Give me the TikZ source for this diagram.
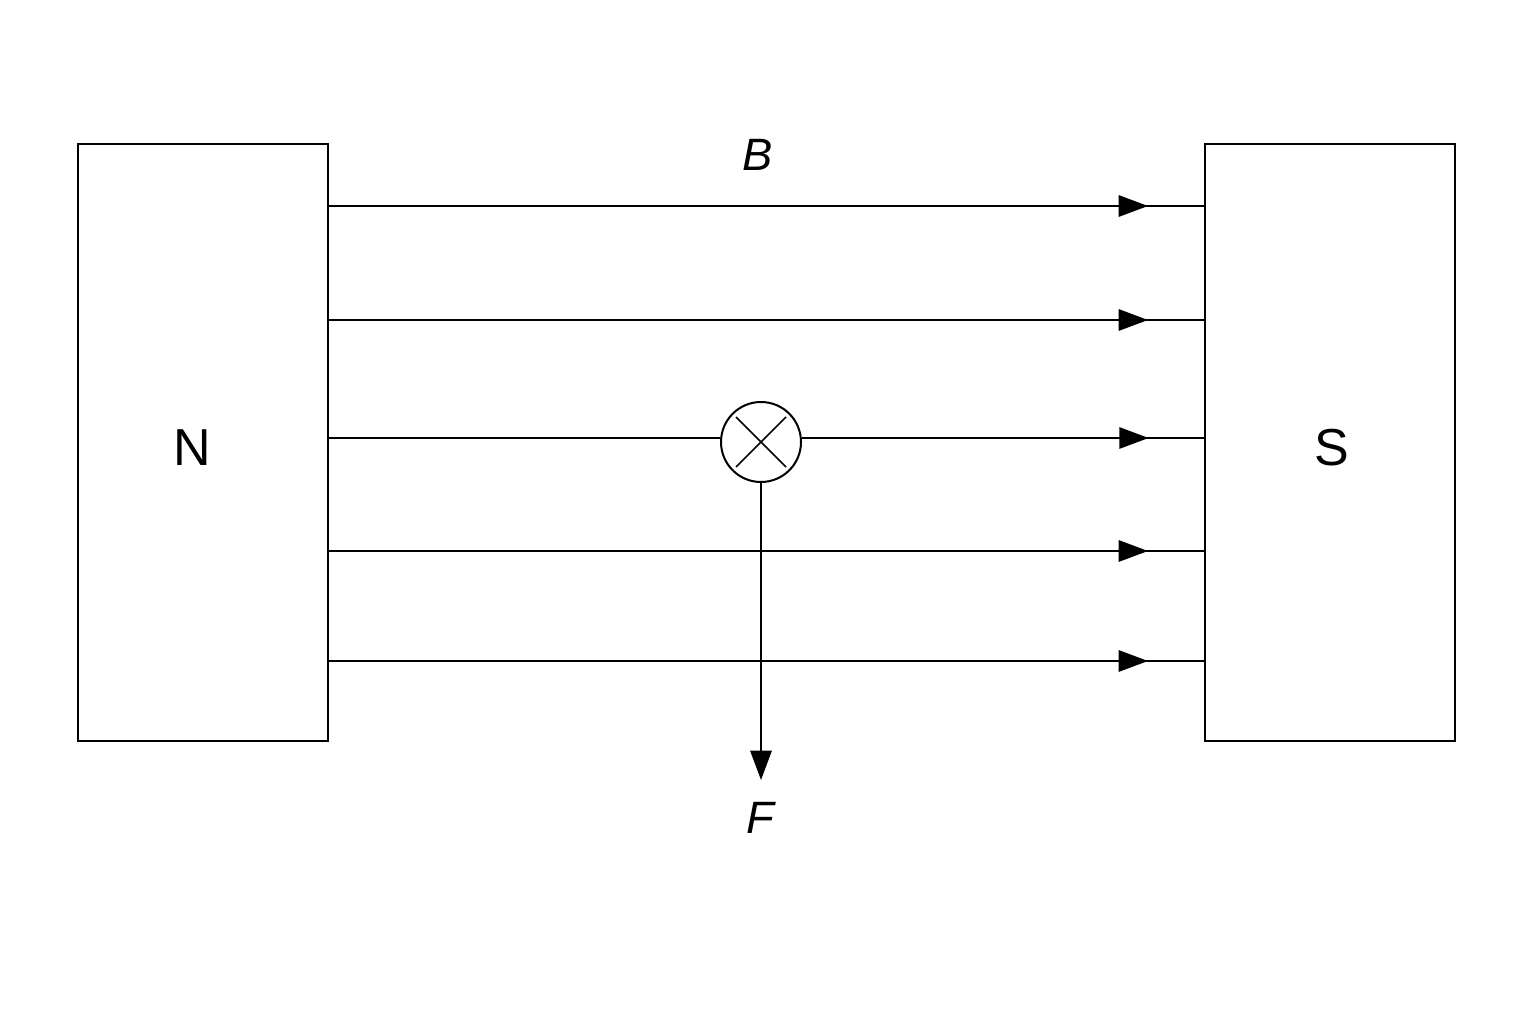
\documentclass[tikz,border=0pt]{standalone}
\usepackage{fontspec}
\setmainfont{Liberation Sans}
\usetikzlibrary{arrows.meta,decorations.markings}

\tikzset{
  pole/.style={draw,line width=1.5pt,minimum width=187.5pt,minimum height=447.75pt,inner sep=0pt,font=\fontsize{39}{44}\selectfont},
  fieldline/.style={line width=1.5pt,postaction={decorate},decoration={markings,
    mark=at position 0.935 with {\arrow{Triangle[length=22pt,width=16pt]}}}},
  lbl/.style={font=\fontsize{34}{40}\selectfont\itshape,inner sep=0.75pt}
}

\begin{document}
\begin{tikzpicture}[x=0.75pt,y=0.75pt,yscale=-1,xscale=1]
\useasboundingbox (0,0) rectangle (1536,1024);
% magnets
\node[pole] (north) at (203,442.5) {};
\node[pole] (south) at (1330,442.5) {};
\node[font=\fontsize{39}{44}\selectfont] (Nlbl) at (192,448) {N};
\node[font=\fontsize{39}{44}\selectfont] (Slbl) at (1332,448) {S};
% field lines
\foreach \i/\y in {1/206,2/320,4/551,5/661}{
  \coordinate (a\i) at (328,\y);
  \coordinate (b\i) at (1205,\y);
  \draw[fieldline] (a\i) -- (b\i);
}
% conductor into the page
\node[draw,circle,line width=1.5pt,minimum size=60pt,inner sep=0pt] (wire) at (761,442) {};
\draw[line width=1.2pt] ([shift={(-25,-25)}]wire.center) -- ([shift={(25,25)}]wire.center)
  ([shift={(25,-25)}]wire.center) -- ([shift={(-25,25)}]wire.center);
\coordinate (a3) at (328,438);
\coordinate (b3) at (1205,438);
\draw[line width=1.5pt] (a3) -- (a3 -| wire.west);
\draw[line width=1.5pt,postaction={decorate},decoration={markings,
    mark=at position 0.86 with {\arrow{Triangle[length=22pt,width=16pt]}}}] (b3 -| wire.east) -- (b3);
% force
\coordinate (tip) at (761,780);
\draw[line width=1.5pt,-{Triangle[length=22pt,width=16pt]}] (wire.south) -- (tip);
% labels
\node[lbl] (Blbl) at (758,155) {B};
\node[lbl] (Flbl) at (760,818) {F};
\end{tikzpicture}
\end{document}
